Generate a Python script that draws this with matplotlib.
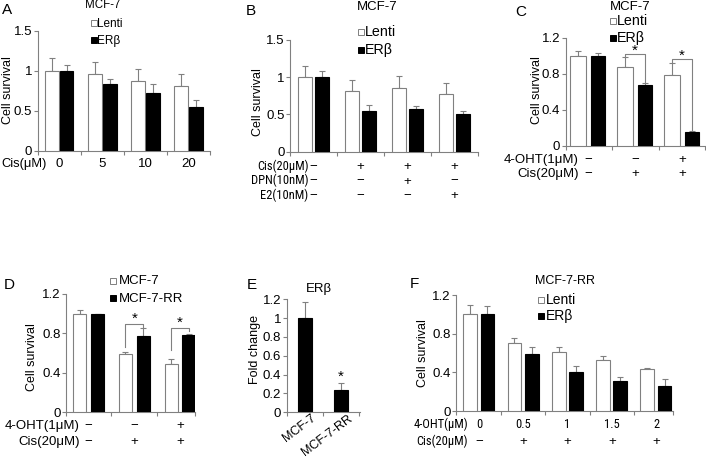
import matplotlib
matplotlib.use('Agg')
import matplotlib.pyplot as plt
from matplotlib import font_manager as fm
from matplotlib.lines import Line2D
from matplotlib.transforms import blended_transform_factory as btf

plt.rcParams['font.family'] = ['Liberation Sans', 'DejaVu Sans']
FS = 9.5
GRAY = '#808080'
W, H = 706, 461

_names = {f.name for f in fm.fontManager.ttflist}
if 'Liberation Sans Narrow' in _names:
    NARROW, NSCALE = 'Liberation Sans Narrow', 1.0
elif 'Roboto Condensed' in _names:
    NARROW, NSCALE = 'Roboto Condensed', 0.95
else:
    NARROW, NSCALE = 'Liberation Sans', 0.85

# ---------------- data ----------------
A_groups = ['0', '5', '10', '20']
A_lenti = [1.0, 0.96, 0.87, 0.81]
A_lenti_err = [0.16, 0.15, 0.15, 0.15]
A_erb = [1.0, 0.83, 0.72, 0.55]
A_erb_err = [0.07, 0.07, 0.11, 0.08]

B_cis = ['−', '+', '+', '+']
B_dpn = ['−', '−', '+', '−']
B_e2 = ['−', '−', '−', '+']
B_lenti = [1.0, 0.81, 0.86, 0.77]
B_lenti_err = [0.15, 0.15, 0.15, 0.15]
B_erb = [1.0, 0.55, 0.58, 0.51]
B_erb_err = [0.08, 0.08, 0.04, 0.03]

C_oht = ['−', '−', '+']
C_cis = ['−', '+', '+']
C_lenti = [1.0, 0.87, 0.79]
C_lenti_err = [0.05, 0.11, 0.13]
C_erb = [1.0, 0.67, 0.15]
C_erb_err = [0.03, 0.03, 0.01]

D_oht = ['−', '−', '+']
D_cis = ['−', '+', '+']
D_mcf7 = [1.0, 0.59, 0.49]
D_mcf7_err = [0.04, 0.02, 0.05]
D_rr = [1.0, 0.77, 0.78]
D_rr_err = [0.0, 0.09, 0.01]

E_cats = ['MCF-7', 'MCF-7-RR']
E_vals = [1.0, 0.24]
E_err = [0.17, 0.07]

F_oht = ['0', '0.5', '1', '1.5', '2']
F_cis = ['−', '+', '+', '+', '+']
F_lenti = [1.0, 0.70, 0.61, 0.53, 0.43]
F_lenti_err = [0.10, 0.06, 0.05, 0.04, 0.01]
F_erb = [1.0, 0.59, 0.40, 0.31, 0.26]
F_erb_err = [0.09, 0.07, 0.07, 0.04, 0.07]

fig = plt.figure(figsize=(W / 100, H / 100), dpi=100)


def fy(y):
    return 1 - y / H


def ft(x, y, s, **kw):
    kw.setdefault('fontsize', FS)
    kw.setdefault('va', 'baseline')
    fig.text(x / W, fy(y), s, **kw)


def mk(x0, x1, yb, yt, xlim, ylim, yticks, yticklabels, xticks):
    ax = fig.add_axes([x0 / W, fy(yb), (x1 - x0) / W, (yb - yt) / H])
    ax.set_xlim(xlim)
    ax.set_ylim(ylim)
    for s in ['top', 'right']:
        ax.spines[s].set_visible(False)
    for s in ['left', 'bottom']:
        ax.spines[s].set_color(GRAY)
        ax.spines[s].set_linewidth(0.8)
    ax.set_yticks(yticks)
    ax.set_yticklabels(yticklabels, fontsize=FS)
    ax.set_xticks(xticks)
    ax.set_xticklabels([])
    ax.tick_params(axis='both', colors=GRAY, labelcolor='black', direction='out',
                   length=3, width=0.8, pad=1)
    ax.patch.set_alpha(0)
    return ax


def bars(ax, vals, errs, offset, width, black):
    xs = [i + offset for i in range(len(vals))]
    ax.bar(xs, vals, width, color='black' if black else 'white',
           edgecolor='black' if black else GRAY, linewidth=0.8, zorder=3)
    ax.errorbar(xs, vals, yerr=[[0] * len(vals), errs], fmt='none', ecolor=GRAY,
                elinewidth=0.8, capsize=2.5, capthick=0.8, zorder=2)
    return xs


def row(ax, labels, ybase, **kw):
    kw.setdefault('fontsize', FS)
    tr = btf(ax.transData, fig.transFigure)
    for i, l in enumerate(labels):
        ax.text(i, fy(ybase), l, transform=tr, ha='center', va='baseline', **kw)


def legend_entry(mx, tx, ybase, label, black, fs=FS):
    fig.add_artist(Line2D([mx / W], [fy(ybase - 3.8)], marker='s', markersize=4.5,
                          markerfacecolor='black' if black else 'white',
                          markeredgecolor='black' if black else GRAY,
                          markeredgewidth=0.7, linestyle='none', transform=fig.transFigure))
    ft(tx, ybase, label, ha='left', fontsize=fs)


def bracket(ax, x1, x2, ytop, yb1, yb2, star_y):
    ax.plot([x1, x1, x2, x2], [yb1, ytop, ytop, yb2], color=GRAY, lw=0.8, clip_on=False, zorder=4)
    ax.text((x1 + x2) / 2, star_y, '*', ha='center', va='center', fontsize=11, clip_on=False)


# ---------------- Panel A ----------------
axA = mk(37.7, 210, 150.7, 30.7, (-0.5, 3.5), (0, 1.5), [0, 0.5, 1, 1.5],
         ['0', '0.5', '1', '1.5'], [-0.5, 0.5, 1.5, 2.5, 3.5])
bars(axA, A_lenti, A_lenti_err, -0.17, 0.32, False)
bars(axA, A_erb, A_erb_err, 0.17, 0.32, True)
row(axA, A_groups, 166.7)
ft(46.5, 166.7, 'Cis(μM)', ha='right', fontsize=9.3)
ft(8, 90, 'Cell survival', rotation=90, ha='center', va='center', fontsize=9)
ft(103, 8.5, 'MCF-7', ha='center', fontsize=8.3)
legend_entry(93.5, 97, 27.3, 'Lenti', False, fs=8.5)
legend_entry(93.5, 97, 44, 'ERβ', True, fs=8.5)
ft(2, 14, 'A', fontsize=11)

# ---------------- Panel B ----------------
axB = mk(290, 478, 151.7, 40, (-0.5, 3.5), (0, 1.5), [0, 0.5, 1, 1.5],
         ['0', '0.5', '1', '1.5'], [-0.5, 0.5, 1.5, 2.5, 3.5])
bars(axB, B_lenti, B_lenti_err, -0.18, 0.30, False)
bars(axB, B_erb, B_erb_err, 0.19, 0.30, True)
row(axB, B_cis, 170)
row(axB, B_dpn, 184.5)
row(axB, B_e2, 199)
bfs = 9.5 * NSCALE
ft(308.5, 170, 'Cis(20μM)', ha='right', family=NARROW, fontsize=bfs)
ft(308.5, 184.5, 'DPN(10nM)', ha='right', family=NARROW, fontsize=bfs)
ft(308.5, 199, 'E2(10nM)', ha='right', family=NARROW, fontsize=bfs)
ft(258.3, 101.7, 'Cell survival', rotation=90, ha='center', va='center', fontsize=9)
ft(377.5, 10, 'MCF-7', ha='center')
legend_entry(361, 365, 36, 'Lenti', False, fs=10.3)
legend_entry(361, 365, 54, 'ERβ', True, fs=10.3)
ft(246, 15, 'B', fontsize=11)

# ---------------- Panel C ----------------
axC = mk(565.7, 705, 145.7, 37.7, (-0.48, 2.49), (0, 1.2), [0, 0.4, 0.8, 1.2],
         ['0', '0.4', '0.8', '1.2'], [-0.48, 0.5, 1.5, 2.49])
bars(axC, C_lenti, C_lenti_err, -0.22, 0.34, False)
bars(axC, C_erb, C_erb_err, 0.21, 0.30, True)
bracket(axC, 1 - 0.22, 1 + 0.21, 1.016, 0.985, 0.71, 1.05)
bracket(axC, 2 - 0.22, 2 + 0.21, 0.96, 0.93, 0.17, 1.0)
row(axC, C_oht, 163)
row(axC, C_cis, 177)
ft(579, 163, '4-OHT(1μM)', ha='right')
ft(579, 177, 'Cis(20μM)', ha='right')
ft(536.7, 90, 'Cell survival', rotation=90, ha='center', va='center', fontsize=9)
ft(630, 9.5, 'MCF-7', ha='center')
legend_entry(613, 617, 25, 'Lenti', False, fs=10.3)
legend_entry(613, 617, 42, 'ERβ', True, fs=10.3)
ft(515, 16, 'C', fontsize=11)

# ---------------- Panel D ----------------
axD = mk(66, 195, 412.3, 294, (-0.49, 2.33), (0, 1.2), [0, 0.4, 0.8, 1.2],
         ['0', '0.4', '0.8', '1.2'], [-0.49, 0.5, 1.5, 2.33])
bars(axD, D_mcf7, D_mcf7_err, -0.19, 0.29, False)
bars(axD, D_rr, D_rr_err, 0.2, 0.29, True)
bracket(axD, 1 - 0.19, 1 + 0.2, 0.896, 0.665, 0.865, 0.95)
bracket(axD, 2 - 0.19, 2 + 0.2, 0.855, 0.632, 0.825, 0.91)
row(axD, D_oht, 429)
row(axD, D_cis, 445)
ft(80, 429, '4-OHT(1μM)', ha='right')
ft(80, 445, 'Cis(20μM)', ha='right')
ft(31.7, 356.7, 'Cell survival', rotation=90, ha='center', va='center', fontsize=9)
legend_entry(112.5, 119.3, 284.3, 'MCF-7', False)
legend_entry(112.5, 119.3, 301.7, 'MCF-7-RR', True)
ft(3.3, 289.3, 'D', fontsize=11)

# ---------------- Panel E ----------------
axE = mk(286.7, 360, 412.3, 299.3, (-0.5, 1.52), (0, 1.2),
         [0, 0.2, 0.4, 0.6, 0.8, 1.0, 1.2],
         ['0', '0.2', '0.4', '0.6', '0.8', '1', '1.2'], [-0.5, 0.5, 1.5])
xsE = list(range(len(E_vals)))
axE.bar(xsE, E_vals, 0.4, color='black', edgecolor='black', linewidth=0.8, zorder=3)
axE.errorbar(xsE, E_vals, yerr=[[0] * len(E_vals), E_err], fmt='none', ecolor=GRAY,
             elinewidth=0.8, capsize=2.5, capthick=0.8, zorder=2)
axE.text(1, E_vals[1] + E_err[1] + 0.07, '*', ha='center', va='center', fontsize=11)
trE = btf(axE.transData, fig.transFigure)
for i, c in enumerate(E_cats):
    axE.text(i + 0.27, fy(417), c, transform=trE, rotation=37, ha='right', va='center',
             rotation_mode='anchor', fontsize=9)
ft(255, 350, 'Fold change', rotation=90, ha='center', va='center', fontsize=9)
ft(319.3, 292, 'ERβ', ha='center')
ft(246.7, 289, 'E', fontsize=11)

# ---------------- Panel F ----------------
axF = mk(456, 673, 411, 295, (-0.52, 4.38), (0, 1.2), [0, 0.4, 0.8, 1.2],
         ['0', '0.4', '0.8', '1.2'], [-0.52, 0.5, 1.5, 2.5, 3.5, 4.38])
bars(axF, F_lenti, F_lenti_err, -0.2, 0.31, False)
bars(axF, F_erb, F_erb_err, 0.19, 0.31, True)
ffs = 9.5 * NSCALE
row(axF, F_oht, 428, family=NARROW, fontsize=ffs)
row(axF, F_cis, 445)
ft(468, 428, '4-OHT(μM)', ha='right', family=NARROW, fontsize=ffs)
ft(468, 445, 'Cis(20μM)', ha='right', family=NARROW, fontsize=ffs)
ft(423.3, 353.3, 'Cell survival', rotation=90, ha='center', va='center', fontsize=9)
ft(565, 284, 'MCF-7-RR', ha='center', fontsize=9)
legend_entry(541, 545.7, 304, 'Lenti', False, fs=10)
legend_entry(541, 545.7, 320, 'ERβ', True, fs=10)
ft(410, 288.3, 'F', fontsize=11)

fig.savefig('out.png', dpi=100)
